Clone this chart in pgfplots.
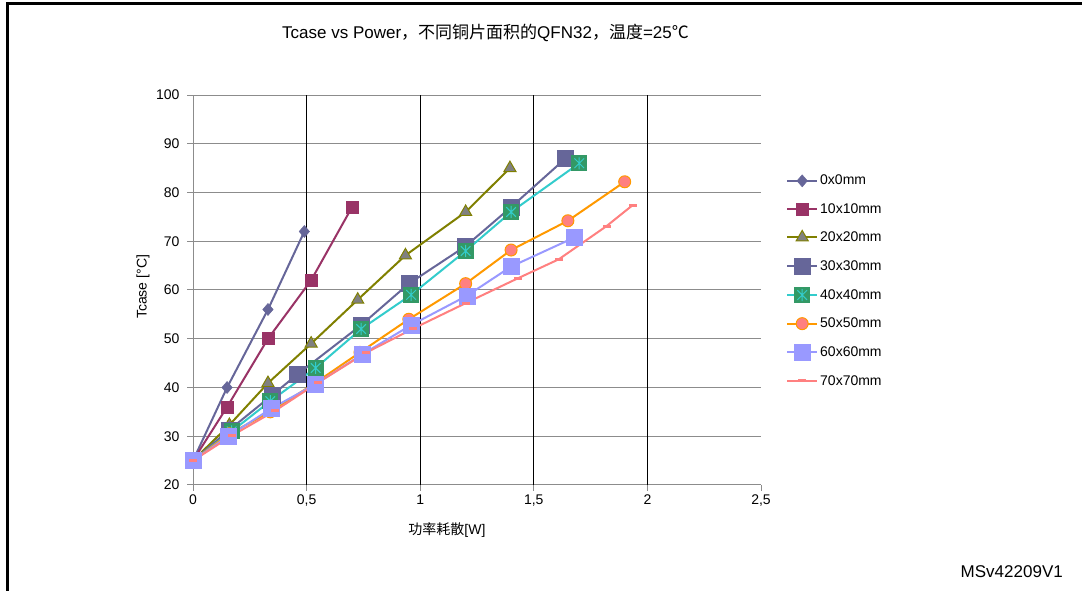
\documentclass[border=0pt]{standalone}
\usepackage{pgfplots}
\pgfplotsset{compat=1.18}
\usepackage{fontspec}
\setmainfont{Liberation Sans}
\newfontfamily\cjk{Noto Sans CJK SC}
\definecolor{cA}{HTML}{666699}
\definecolor{cB}{HTML}{993366}
\definecolor{olv}{HTML}{808000}
\definecolor{mgray}{HTML}{808080}
\definecolor{mteal}{HTML}{33CCCC}
\definecolor{mgreen}{HTML}{339966}
\definecolor{morange}{HTML}{FF9900}
\definecolor{msalmon}{HTML}{FF8080}
\definecolor{mlav}{HTML}{9999FF}
\definecolor{axgray}{HTML}{8C8C8C}
\pgfdeclareplotmark{sqast}{%
  \pgfpathrectangle{\pgfqpoint{-\pgfplotmarksize}{-\pgfplotmarksize}}{\pgfqpoint{2\pgfplotmarksize}{2\pgfplotmarksize}}%
  \pgfsetfillcolor{mgreen}\pgfusepath{fill}%
  \pgfsetstrokecolor{mteal}\pgfsetlinewidth{1pt}%
  \pgfpathmoveto{\pgfqpoint{0pt}{0.75\pgfplotmarksize}}\pgfpathlineto{\pgfqpoint{0pt}{-0.75\pgfplotmarksize}}%
  \pgfpathmoveto{\pgfqpoint{-0.6\pgfplotmarksize}{0.6\pgfplotmarksize}}\pgfpathlineto{\pgfqpoint{0.6\pgfplotmarksize}{-0.6\pgfplotmarksize}}%
  \pgfpathmoveto{\pgfqpoint{-0.6\pgfplotmarksize}{-0.6\pgfplotmarksize}}\pgfpathlineto{\pgfqpoint{0.6\pgfplotmarksize}{0.6\pgfplotmarksize}}%
  \pgfusepathqstroke}
\begin{document}
\begin{tikzpicture}
\path[use as bounding box] (0,0) rectangle (1082pt,591pt);
\fill[white] (0,0) rectangle (1082pt,591pt);
\draw[line width=3pt] (7.5pt,0) -- (7.5pt,587.5pt) -- (1082pt,587.5pt);
\node[font=\fontsize{17}{20}\selectfont] at (485.5pt,558pt) {Tcase vs Power{\cjk ，不同铜片面积的}QFN32{\cjk ，温度}=25{\cjk ℃}};
\node[font=\fontsize{17}{20}\selectfont, anchor=base east, inner sep=0pt] at (1063pt,13pt) {MSv42209V1};
\begin{axis}[
  at={(193pt,106pt)}, anchor=south west,
  scale only axis, width=568pt, height=390pt,
  xmin=0, xmax=2.5, ymin=20, ymax=100,
  font=\fontsize{14}{17}\selectfont,
  axis lines*=left,
  axis line style={draw=axgray, line width=1pt},
  tick style={draw=axgray, line width=1pt},
  tick align=outside, major tick length=6pt,
  xtick={0,0.5,1,1.5,2,2.5},
  ytick={20,30,40,50,60,70,80,90,100},
  xticklabels={0,{0,5},1,{1,5},2,{2,5}},
  yticklabel style={xshift=-4pt},
  /pgf/number format/assume math mode=true,
  ymajorgrids, y grid style={axgray, line width=1pt},
  extra x ticks={0.5,1,1.5,2}, extra x tick labels={},
  extra x tick style={grid=major, major grid style={black, line width=1pt}, tick style={draw=none}},
  ylabel={Tcase [°C]},
  ylabel style={at={(axis description cs:-0.088,0.508)}, anchor=center},
  xlabel={{\cjk 功率耗散}[W]},
  xlabel style={at={(axis description cs:0.447,-0.115)}, anchor=center},
  legend style={at={(1.044,0.800)}, anchor=north west, draw=none, fill=none, inner sep=0pt, row sep=13pt, font=\fontsize{14}{17}\selectfont},
  legend cell align=left,
  legend image code/.code={\draw[mark repeat=2,mark phase=2,#1] plot coordinates {(0pt,0pt)(15pt,0pt)(30pt,0pt)};},
  every axis plot/.append style={line width=2pt},
]
\addplot[color=cA, mark=diamond*, mark size=6pt, mark options={xscale=1.15, solid, fill=cA, draw=cA, line width=0.5pt}] coordinates {(0,25)(0.15,40)(0.33,56)(0.49,72)};
\addlegendentry{0x0mm}
\addplot[color=cB, mark=square*, mark size=6pt, mark options={solid, fill=cB, draw=cB, line width=0.5pt}] coordinates {(0,25)(0.15,36)(0.33,50)(0.52,62)(0.70,77)};
\addlegendentry{10x10mm}
\addplot[color=olv, mark=triangle*, mark size=7pt, mark options={solid, fill=mgray, draw=olv, line width=1pt}] coordinates {(0,25)(0.16,32.3)(0.33,40.9)(0.52,49)(0.725,58)(0.935,67.1)(1.20,76)(1.395,85)};
\addlegendentry{20x20mm}
\addplot[color=cA, mark=square*, mark size=8pt, mark options={solid, fill=cA, draw=cA, line width=0.5pt}] coordinates {(0,25)(0.16,31.3)(0.35,38.5)(0.46,42.7)(0.74,52.8)(0.95,61.3)(1.20,69)(1.40,77)(1.64,87)};
\addlegendentry{30x30mm}
\addplot[color=mteal, mark=sqast, mark size=8pt] coordinates {(0,25)(0.17,31)(0.34,37.2)(0.54,44)(0.74,52)(0.96,59)(1.20,68)(1.40,76)(1.70,86)};
\addlegendentry{40x40mm}
\addplot[color=morange, mark=*, mark size=6pt, mark options={solid, fill=msalmon, draw=morange, line width=1pt}] coordinates {(0,25)(0.16,30.5)(0.34,35)(0.54,41)(0.735,47.2)(0.95,54)(1.20,61.3)(1.40,68.2)(1.65,74.2)(1.90,82.2)};
\addlegendentry{50x50mm}
\addplot[color=mlav, mark=square*, mark size=8pt, mark options={solid, fill=mlav, draw=mlav, line width=0.5pt}] coordinates {(0,25)(0.155,30)(0.345,35.7)(0.54,40.7)(0.745,46.8)(0.96,52.8)(1.205,58.8)(1.40,64.8)(1.68,70.8)};
\addlegendentry{60x60mm}
\addplot[color=msalmon, mark=-, mark size=4pt, mark options={solid, line width=3pt}] coordinates {(0,25)(0.17,30.1)(0.36,35.2)(0.55,41)(0.76,47.1)(0.97,52.1)(1.2,57.3)(1.43,62.4)(1.61,66.3)(1.82,73.1)(1.935,77.4)};
\addlegendentry{70x70mm}
\end{axis}
\end{tikzpicture}
\end{document}
